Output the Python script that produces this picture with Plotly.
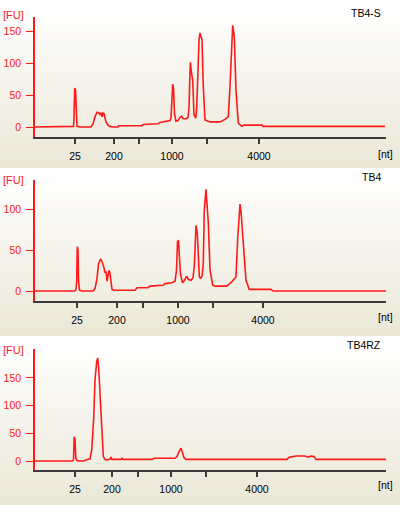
import plotly.graph_objects as go

W, H = 400, 505

# ---- data: migration time [s] vs fluorescence [FU] ----
tb4s_time = [19.00, 24.29, 24.50, 24.57, 24.67, 24.79, 24.89, 25.00, 25.43, 27.00, 27.29, 27.57,
             27.86, 28.14, 28.29, 28.43, 28.57, 28.71, 28.86, 29.00, 29.14, 29.43, 29.71, 30.14,
             30.86, 31.00, 34.29, 34.43, 36.14, 36.57, 36.86, 37.29, 37.57, 38.00, 38.29, 38.43,
             38.57, 38.67, 38.79, 38.93, 39.14, 39.43, 39.71, 39.93, 40.14, 40.57, 40.86, 41.00,
             41.14, 41.21, 41.31, 41.53, 41.71, 41.96, 42.10, 42.24, 42.43, 42.57, 42.86, 43.04,
             43.29, 44.00, 45.43, 46.14, 46.61, 46.86, 47.10, 47.24, 47.47, 47.71, 48.04, 48.53,
             48.86, 51.43, 51.57, 69.00]
tb4s_fu = [0, 0, 1, 14, 61, 58, 15, 1, 0, 0, 5, 16,
           23, 22, 19, 22, 16, 22, 21, 14, 8, 3, 1, 0,
           0, 2, 2, 4, 4, 5, 7, 8, 8, 10, 10, 14,
           55, 67, 60, 20, 9, 10, 15, 17, 13, 13, 15, 30,
           85, 101, 88, 73, 19, 14, 30, 79, 135, 147, 136, 63,
           11, 8, 8, 12, 16, 63, 140, 159, 141, 58, 6, 1,
           3, 3, 1, 1]

tb4_time = [19.00, 24.71, 24.86, 24.96, 25.04, 25.14, 25.23, 25.36, 25.71, 27.29, 27.57, 27.86,
            28.07, 28.36, 28.57, 28.71, 28.86, 29.00, 29.14, 29.29, 29.43, 29.57, 29.71, 29.86,
            30.00, 30.29, 33.29, 33.57, 35.14, 35.43, 37.29, 37.57, 38.57, 39.00, 39.21, 39.36,
            39.50, 39.64, 39.79, 40.07, 40.29, 40.64, 40.93, 41.29, 41.57, 41.76, 41.90, 42.00,
            42.19, 42.33, 42.47, 42.64, 42.86, 43.04, 43.19, 43.43, 43.76, 44.00, 44.39, 44.71,
            46.39, 47.10, 47.71, 47.96, 48.29, 48.43, 48.76, 49.14, 49.61, 52.71, 53.00, 69.14]
tb4_fu = [0, 0, 2, 12, 54, 50, 12, 1, 0, 0, 3, 15,
          33, 39, 36, 33, 28, 22, 24, 12, 22, 25, 22, 8,
          2, 1, 1, 4, 4, 6, 7, 9, 10, 12, 25, 60,
          62, 40, 20, 10, 12, 18, 14, 13, 16, 30, 65, 80,
          70, 40, 18, 15, 18, 34, 99, 124, 83, 26, 7, 6,
          6, 11, 17, 65, 106, 97, 58, 13, 2, 2, 0, 0]

tb4rz_time = [19.00, 24.29, 24.50, 24.60, 24.71, 24.83, 25.00, 25.29, 26.00, 26.29, 26.86, 27.10,
              27.39, 27.57, 27.81, 27.96, 28.10, 28.29, 28.53, 28.76, 29.00, 29.14, 29.71, 29.86,
              30.00, 31.29, 31.43, 31.57, 35.71, 36.00, 39.00, 39.29, 39.57, 39.86, 40.07, 40.29,
              40.57, 55.00, 55.29, 56.29, 57.57, 58.00, 58.43, 58.86, 59.14, 69.14]
tb4rz_fu = [0, 0, 2, 44, 40, 5, 1, 0, 0, 2, 4, 20,
            78, 146, 179, 186, 167, 119, 53, 8, 3, 2, 3, 7,
            3, 3, 5, 3, 3, 5, 5, 8, 17, 23, 15, 6,
            3, 3, 7, 9, 9, 7, 9, 8, 3, 3]

tick_labels = ["25", "200", "", "1000", "", "4000"]
tb4s_ticks = [24.71, 30.29, 33.86, 38.57, 43.57, 51.00]
tb4_ticks = [25.00, 30.71, 34.43, 39.43, 44.43, 51.57]
tb4rz_ticks = [24.71, 30.00, 33.71, 38.43, 43.43, 50.71]

sample_names = ["TB4-S", "TB4", "TB4RZ"]
fu_ticks = [[0, 50, 100, 150], [0, 50, 100], [0, 50, 100, 150]]

# ---- layout geometry (pixels) ----
panels = [
    dict(t=tb4s_time, fu=tb4s_fu, ticks=tb4s_ticks, yr=[-15.6, 171.9], top=17, bottom=137,
         band=(0, 168), fu_y=15, nt_y=154, title_y=13),
    dict(t=tb4_time, fu=tb4_fu, ticks=tb4_ticks, yr=[-12.2, 135.4], top=180, bottom=301,
         band=(168, 336), fu_y=180, nt_y=317, title_y=177),
    dict(t=tb4rz_time, fu=tb4rz_fu, ticks=tb4rz_ticks, yr=[-16.2, 202.2], top=349, bottom=470,
         band=(336, 505), fu_y=350, nt_y=485, title_y=345),
]

X0, X1 = 35, 386
XR = [19.0, 19.0 + (X1 - X0) / 7.0]
FONT = "Liberation Sans"
FS = 10.5
RED = "#ff1a1a"


def py(v):
    return 1 - v / H


fig = go.Figure()
shapes = []
annotations = []
c_top = (255, 255, 255)
c_bot = (235, 232, 216)
NB = 30

for i, p in enumerate(panels):
    n = "" if i == 0 else str(i + 1)
    fig.add_trace(go.Scatter(x=p["t"], y=p["fu"], mode="lines",
                             line=dict(color=RED, width=1.6),
                             xaxis="x" + n, yaxis="y" + n, showlegend=False,
                             hoverinfo="skip"))
    fig.layout["xaxis" + n] = dict(
        domain=[X0 / W, X1 / W], range=XR, anchor="y" + n,
        showline=True, linecolor="#3a3a3a", linewidth=1.5,
        showgrid=False, zeroline=False,
        ticks="outside", ticklen=5, tickwidth=1.5, tickcolor="#3a3a3a",
        tickvals=p["ticks"], ticktext=tick_labels,
        tickfont=dict(family=FONT, size=FS, color="#000000"),
        ticklabelstandoff=4, fixedrange=True,
    )
    fig.layout["yaxis" + n] = dict(
        domain=[py(p["bottom"]), py(p["top"])], range=p["yr"], anchor="x" + n,
        showline=True, linecolor=RED, linewidth=1.5,
        showgrid=False, zeroline=False,
        ticks="outside", ticklen=7, tickwidth=1.2, tickcolor=RED,
        tickvals=fu_ticks[i],
        tickfont=dict(family=FONT, size=FS, color=RED),
        ticklabelstandoff=3, fixedrange=True,
    )
    # background gradient bands
    b0, b1 = p["band"]
    for k in range(NB):
        f = k / (NB - 1)
        col = "rgb(%d,%d,%d)" % tuple(round(c_top[j] + (c_bot[j] - c_top[j]) * f) for j in range(3))
        ya = b0 + (b1 - b0) * k / NB
        yb = b0 + (b1 - b0) * (k + 1) / NB
        shapes.append(dict(type="rect", xref="paper", yref="paper", x0=0, x1=1,
                           y0=py(yb + 0.6), y1=py(ya), fillcolor=col,
                           line=dict(width=0), layer="below"))
    annotations.append(dict(text="[FU]", x=13.5 / W, y=py(p["fu_y"]), xref="paper", yref="paper",
                            xanchor="center", yanchor="middle", showarrow=False,
                            font=dict(family=FONT, size=FS + 0.5, color=RED)))
    annotations.append(dict(text="[nt]", x=385 / W, y=py(p["nt_y"]), xref="paper", yref="paper",
                            xanchor="center", yanchor="middle", showarrow=False,
                            font=dict(family=FONT, size=FS, color="#000000")))
    annotations.append(dict(text=sample_names[i], x=383 / W, y=py(p["title_y"]), xref="paper",
                            yref="paper", xanchor="right", yanchor="middle", showarrow=False,
                            font=dict(family=FONT, size=FS, color="#000000")))

fig.update_layout(
    width=W, height=H, margin=dict(l=0, r=0, t=0, b=0),
    paper_bgcolor="#ffffff", plot_bgcolor="rgba(0,0,0,0)",
    shapes=shapes, annotations=annotations,
)

fig.write_html("out.html", config={"displayModeBar": False},
               post_script="document.body.style.margin='0';document.body.style.padding='0';")
